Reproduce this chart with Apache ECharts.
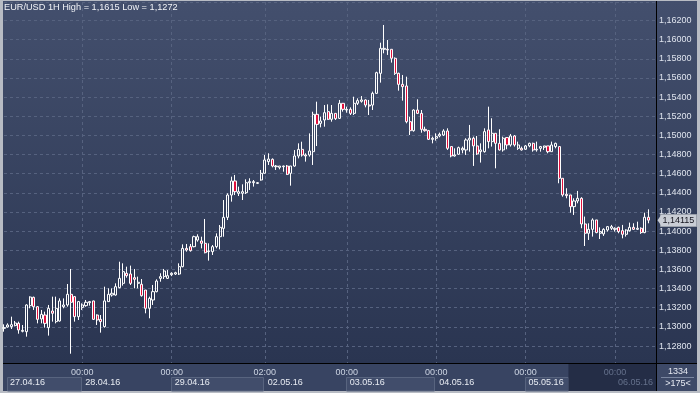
<!DOCTYPE html>
<html><head><meta charset="utf-8">
<script src="https://cdn.jsdelivr.net/npm/echarts@6/dist/echarts.min.js"></script>
<style>html,body{margin:0;padding:0;background:#b8bcc4}#c{width:700px;height:393px}</style>
</head><body><div id="c"></div>
<script>
const openP = [1.12985,1.12999,1.13003,1.13013,1.13037,1.12954,1.12950,1.13222,1.13309,1.13211,
1.13083,1.13124,1.12992,1.13166,1.13055,1.13062,1.13211,1.13229,1.13340,1.13316,
1.13107,1.13204,1.13222,1.13253,1.13271,1.13124,1.13079,1.13003,1.13264,1.13333,
1.13333,1.13410,1.13455,1.13560,1.13553,1.13514,1.13455,1.13445,1.13385,1.13194,
1.13281,1.13368,1.13507,1.13525,1.13507,1.13545,1.13552,1.13552,1.13629,1.13820,
1.13838,1.13838,1.13907,1.13897,1.13873,1.13786,1.13786,1.13838,1.13942,1.14029,
1.14144,1.14377,1.14524,1.14395,1.14395,1.14402,1.14506,1.14506,1.14499,1.14534,
1.14604,1.14726,1.14750,1.14673,1.14666,1.14673,1.14680,1.14604,1.14680,1.14785,
1.14854,1.14795,1.14795,1.14830,1.15220,1.15126,1.15161,1.15248,1.15168,1.15230,
1.15178,1.15335,1.15265,1.15272,1.15230,1.15335,1.15356,1.15370,1.15317,1.15317,
1.15439,1.15648,1.15899,1.15899,1.15899,1.15805,1.15648,1.15533,1.15516,1.15143,
1.15049,1.15265,1.15230,1.15063,1.15050,1.14959,1.14970,1.14994,1.15004,1.15046,
1.14883,1.14785,1.14803,1.14848,1.14848,1.14952,1.14970,1.14890,1.14830,1.14830,
1.15057,1.14935,1.15022,1.14917,1.14848,1.14977,1.14900,1.14994,1.14865,1.14865,
1.14855,1.14890,1.14917,1.14848,1.14865,1.14876,1.14890,1.14830,1.14883,1.14883,
1.14552,1.14385,1.14378,1.14256,1.14315,1.14343,1.14075,1.13978,1.14019,1.14117,
1.13978,1.13971,1.14012,1.14030,1.14019,1.14040,1.14005,1.13967,1.14005,1.14040,
1.14019,1.14030,1.13985,1.14145];
const highP = [1.13027,1.13037,1.13107,1.13062,1.13055,1.13020,1.13236,1.13319,1.13316,1.13218,
1.13177,1.13159,1.13229,1.13316,1.13316,1.13298,1.13298,1.13448,1.13605,1.13323,
1.13271,1.13246,1.13281,1.13271,1.13274,1.13131,1.13124,1.13420,1.13403,1.13403,
1.13455,1.13681,1.13664,1.13629,1.13640,1.13605,1.13525,1.13500,1.13385,1.13316,
1.13438,1.13497,1.13560,1.13605,1.13594,1.13570,1.13576,1.13664,1.13862,1.13866,
1.13866,1.13953,1.13967,1.13942,1.14127,1.13873,1.13855,1.13977,1.14064,1.14325,
1.14395,1.14569,1.14587,1.14465,1.14489,1.14541,1.14552,1.14534,1.14513,1.14639,
1.14795,1.14813,1.14760,1.14691,1.14680,1.14684,1.14691,1.14680,1.14847,1.14917,
1.14934,1.14813,1.15021,1.15247,1.15352,1.15196,1.15317,1.15324,1.15317,1.15230,
1.15370,1.15335,1.15300,1.15293,1.15404,1.15387,1.15411,1.15377,1.15370,1.15457,
1.15665,1.15968,1.16153,1.15996,1.15899,1.15815,1.15655,1.15631,1.15613,1.15195,
1.15272,1.15377,1.15265,1.15091,1.15057,1.14987,1.15022,1.15029,1.15064,1.15074,
1.14883,1.14865,1.14883,1.14883,1.14970,1.15109,1.14987,1.14994,1.14917,1.15074,
1.15300,1.15179,1.15022,1.15064,1.14987,1.14980,1.15015,1.15004,1.14935,1.14883,
1.14900,1.14924,1.14924,1.14935,1.14890,1.14890,1.14890,1.14935,1.14924,1.14883,
1.14552,1.14448,1.14378,1.14343,1.14420,1.14354,1.14152,1.14082,1.14134,1.14117,
1.14040,1.14030,1.14054,1.14065,1.14040,1.14047,1.14065,1.14019,1.14089,1.14082,
1.14099,1.14040,1.14193,1.14228];
const lowP = [1.12950,1.12992,1.12978,1.13006,1.12929,1.12943,1.12898,1.13194,1.13177,1.13037,
1.13037,1.12992,1.12909,1.13055,1.13037,1.13055,1.13194,1.13211,1.12720,1.13055,
1.13072,1.13177,1.13211,1.13222,1.13072,1.13020,1.12940,1.12992,1.13264,1.13316,
1.13326,1.13403,1.13431,1.13514,1.13438,1.13403,1.13403,1.13316,1.13142,1.13090,
1.13229,1.13361,1.13472,1.13500,1.13500,1.13530,1.13542,1.13542,1.13622,1.13786,
1.13786,1.13831,1.13890,1.13820,1.13768,1.13692,1.13751,1.13820,1.13810,1.13942,
1.14116,1.14308,1.14377,1.14367,1.14325,1.14388,1.14430,1.14465,1.14492,1.14527,
1.14604,1.14691,1.14666,1.14639,1.14646,1.14621,1.14586,1.14475,1.14673,1.14760,
1.14778,1.14726,1.14778,1.14691,1.14889,1.15084,1.15091,1.15161,1.15143,1.15161,
1.15171,1.15248,1.15237,1.15213,1.15213,1.15317,1.15342,1.15293,1.15213,1.15265,
1.15432,1.15551,1.15857,1.15840,1.15760,1.15631,1.15467,1.15363,1.15126,1.15004,
1.15039,1.15223,1.15028,1.15039,1.14952,1.14917,1.14945,1.14980,1.14994,1.14848,
1.14771,1.14778,1.14796,1.14813,1.14796,1.14830,1.14681,1.14796,1.14716,1.14820,
1.14865,1.14883,1.14656,1.14841,1.14830,1.14855,1.14883,1.14883,1.14848,1.14841,
1.14848,1.14876,1.14830,1.14830,1.14830,1.14848,1.14813,1.14830,1.14865,1.14500,
1.14360,1.14343,1.14193,1.14169,1.14291,1.14030,1.13845,1.13908,1.13943,1.13978,
1.13918,1.13950,1.13995,1.14012,1.13995,1.13978,1.13925,1.13943,1.13995,1.14012,
1.14012,1.13971,1.13978,1.14082];
const closeP = [1.12992,1.13020,1.13023,1.13041,1.12968,1.12964,1.13229,1.13312,1.13211,1.13079,
1.13131,1.13037,1.13194,1.13142,1.13194,1.13271,1.13229,1.13340,1.13257,1.13107,
1.13264,1.13229,1.13257,1.13264,1.13079,1.13072,1.13055,1.13271,1.13340,1.13351,
1.13420,1.13507,1.13577,1.13535,1.13455,1.13497,1.13466,1.13326,1.13194,1.13298,
1.13368,1.13479,1.13525,1.13584,1.13535,1.13560,1.13566,1.13629,1.13820,1.13803,
1.13796,1.13942,1.13942,1.13873,1.13775,1.13793,1.13838,1.13942,1.14040,1.14144,
1.14377,1.14524,1.14412,1.14412,1.14412,1.14506,1.14517,1.14517,1.14506,1.14604,
1.14743,1.14753,1.14680,1.14680,1.14680,1.14680,1.14593,1.14680,1.14785,1.14854,
1.14795,1.14785,1.14837,1.15220,1.15115,1.15150,1.15237,1.15168,1.15230,1.15175,
1.15335,1.15272,1.15272,1.15230,1.15335,1.15363,1.15370,1.15317,1.15307,1.15439,
1.15655,1.15909,1.15909,1.15892,1.15805,1.15648,1.15533,1.15509,1.15143,1.15049,
1.15265,1.15230,1.15063,1.15049,1.14959,1.14970,1.14987,1.15011,1.15046,1.14865,
1.14785,1.14796,1.14872,1.14865,1.14952,1.14970,1.14890,1.14806,1.14848,1.15039,
1.14935,1.15022,1.14917,1.14848,1.14970,1.14900,1.14994,1.14900,1.14900,1.14848,
1.14890,1.14917,1.14848,1.14855,1.14883,1.14890,1.14830,1.14900,1.14917,1.14552,
1.14378,1.14371,1.14256,1.14315,1.14343,1.14075,1.13978,1.14019,1.14117,1.13985,
1.13995,1.14019,1.14047,1.14047,1.14030,1.13995,1.13967,1.14012,1.14040,1.14019,
1.14030,1.13985,1.14145,1.14115];

const slotCount = 176;
const tickIdx = [21, 45, 70, 92, 116, 140, 164];
const tickText = ['00:00', '00:00', '02:00', '00:00', '00:00', '00:00', '00:00'];
const dateIdx = [0, 21, 45, 70, 92, 116, 140, 164];
const dateText = ['27.04.16', '28.04.16', '29.04.16', '02.05.16', '03.05.16', '04.05.16', '05.05.16', '06.05.16'];
const boxedDays = [0, 45, 92, 140];
const dimFrom = 152;
const infoTexts = ['1334', '>175<'];
const symbolName = 'EUR/USD 1H';

const categories = Array.from({length: slotCount}, (_, i) => String(i));
const candleData = openP.map((o, i) => [o, closeP[i], lowP[i], highP[i]]);
const fmt = (v, d) => v.toFixed(d).replace('.', ',');
const hi = Math.max(...highP), lo = Math.min(...lowP);
const last = closeP[closeP.length - 1];

const FONT = 'Liberation Sans';
const chart = echarts.init(document.getElementById('c'), null, {renderer: 'canvas'});
const gridColor = '#56627f';

chart.setOption({
  animation: false,
  backgroundColor: '#b8bcc4',
  textStyle: {fontFamily: FONT},
  title: {
    text: symbolName + ' High = ' + fmt(hi, 4) + ' Low = ' + fmt(lo, 4),
    left: 4, top: 3, padding: 0,
    textStyle: {color: '#f2f4f8', fontSize: 9.2, fontWeight: 'normal', fontFamily: FONT}
  },
  grid: {left: 4, right: 44, top: 2, bottom: 30, containLabel: false},
  xAxis: [{
    type: 'category', data: categories, boundaryGap: false,
    axisLine: {show: false}, axisTick: {show: false},
    axisLabel: {
      interval: (i) => tickIdx.includes(i),
      formatter: (v, i) => { const k = tickIdx.indexOf(+v); return k < 0 ? '' : tickText[k]; },
      color: (v) => (+v >= dimFrom ? '#65718c' : '#cdd5e3'),
      fontSize: 9, margin: 5, fontFamily: FONT
    },
    splitLine: {show: true, interval: (i) => tickIdx.includes(i), lineStyle: {color: gridColor, type: [3, 3], width: 1}}
  }, {
    type: 'category', data: categories, boundaryGap: false, position: 'bottom', gridIndex: 0,
    axisLine: {show: false}, axisTick: {show: false}, splitLine: {show: false},
    axisLabel: {
      interval: (i) => dateIdx.includes(i),
      formatter: (v) => {
        const k = dateIdx.indexOf(+v); if (k < 0) return '';
        const s = k === 0 ? 'f' : (+v >= dimFrom ? 'd' : 'n');
        return '{' + s + '|' + dateText[k] + '}';
      },
      align: 'left', margin: 15, fontSize: 9, color: '#e8ecf3',
      rich: {
        f: {padding: [0, 0, 0, 6], color: '#e8ecf3', fontSize: 9, fontFamily: FONT},
        n: {padding: [0, 0, 0, 3], color: '#e8ecf3', fontSize: 9, fontFamily: FONT},
        d: {padding: [0, 0, 0, 3], color: '#65718c', fontSize: 9, fontFamily: FONT}
      }
    }
  }],
  yAxis: {
    type: 'value', position: 'right', scale: true,
    min: 1.12623, max: 1.16393, splitNumber: 19,
    axisLine: {show: false}, axisTick: {show: false},
    axisLabel: {
      margin: 3, fontSize: 9, color: '#dfe4ee', fontFamily: FONT,
      showMinLabel: false, showMaxLabel: false,
      formatter: (v) => fmt(v, 5)
    },
    splitLine: {show: true, lineStyle: {color: gridColor, type: [3, 3], width: 1}}
  },
  series: [{
    type: 'candlestick', data: candleData, barWidth: 2.6, clip: true, z: 3,
    itemStyle: {color: 'rgba(0,0,0,0)', color0: '#e0103c', borderColor: '#ffffff', borderColor0: '#ffffff', borderWidth: 1}
  }]
});

const px = (i) => chart.convertToPixel({xAxisIndex: 0}, i);
const py = (v) => chart.convertToPixel({yAxisIndex: 0}, v);
const overlayX = (px(dimFrom - 1) + px(dimFrom)) / 2;
const g = [];
g.push({type: 'rect', z: -10, shape: {x: 3, y: 1, width: 694, height: 362},
  style: {fill: new echarts.graphic.LinearGradient(0, 0, 0, 1, [{offset: 0, color: '#434f6d'}, {offset: 1, color: '#2a3551'}])}});
g.push({type: 'rect', z: -10, shape: {x: 3, y: 364, width: 694, height: 27}, style: {fill: '#384462'}});
boxedDays.forEach((d) => {
  const k = dateIdx.indexOf(d);
  const x1 = Math.max(px(d) - 0.5, 7);
  let x2 = k + 1 < dateIdx.length ? px(dateIdx[k + 1]) - 1.5 : overlayX;
  x2 = Math.min(x2, overlayX);
  g.push({type: 'rect', z: -9, shape: {x: Math.round(x1) + 0.5, y: 377.5, width: Math.round(x2 - x1), height: 13.5},
    style: {fill: '#414d6b', stroke: '#58647f', lineWidth: 1}});
});
g.push({type: 'rect', z: -8, shape: {x: overlayX, y: 364, width: 656 - overlayX, height: 27}, style: {fill: '#242d46'}});
g.push({type: 'rect', z: -8, shape: {x: 657, y: 364, width: 40, height: 27}, style: {fill: '#3d4967'}});
g.push({type: 'line', z: 5, shape: {x1: 661, y1: 377.5, x2: 694, y2: 377.5}, style: {stroke: '#7a86a0', lineWidth: 1}});
g.push({type: 'text', z: 5, style: {text: infoTexts[0], x: 678, y: 371.5, align: 'center', verticalAlign: 'middle', fill: '#e6eaf2', fontSize: 9, fontFamily: FONT}});
g.push({type: 'text', z: 5, style: {text: infoTexts[1], x: 678, y: 384, align: 'center', verticalAlign: 'middle', fill: '#e6eaf2', fontSize: 9, fontFamily: FONT}});
g.push({type: 'line', z: 5, shape: {x1: 656.5, y1: 1, x2: 656.5, y2: 391}, style: {stroke: '#000', lineWidth: 1}});
g.push({type: 'line', z: 5, shape: {x1: 3, y1: 363.5, x2: 697, y2: 363.5}, style: {stroke: '#000', lineWidth: 1}});
const yl = py(last);
g.push({type: 'rect', z: 6, shape: {x: 660.5, y: Math.round(yl) - 5.5, width: 36, height: 12}, style: {fill: '#c9cdd5', stroke: '#9aa0ab', lineWidth: 1}});
g.push({type: 'polygon', z: 6, shape: {points: [[657.5, yl], [661, yl - 5], [661, yl + 5]]}, style: {fill: '#c9cdd5'}});
g.push({type: 'text', z: 7, style: {text: fmt(last, 5), x: 662.5, y: yl + 0.5, align: 'left', verticalAlign: 'middle', fill: '#15151f', fontSize: 9, fontFamily: FONT}});
chart.setOption({graphic: g});
</script>
</body></html>
